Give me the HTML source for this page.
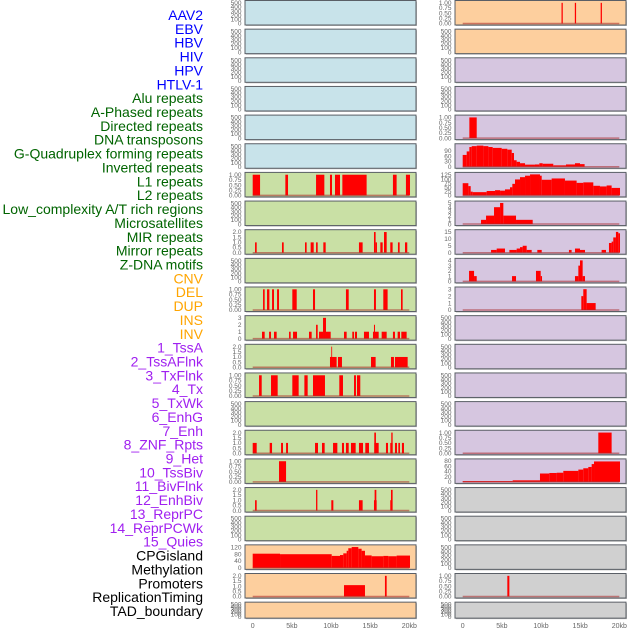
<!DOCTYPE html>
<html><head><meta charset="utf-8"><style>
html,body{margin:0;padding:0;background:#fff;width:630px;height:630px;overflow:hidden}
svg{display:block;font-family:"Liberation Sans",sans-serif}
</style></head><body>
<svg id="chart" width="630" height="630" viewBox="0 0 630 630" xmlns="http://www.w3.org/2000/svg"></svg>
<script>
// ---- data (kb start, kb end, value) ----
const trackLabels=["AAV2","EBV","HBV","HIV","HPV","HTLV-1","Alu repeats","A-Phased repeats","Directed repeats","DNA transposons","G-Quadruplex forming repeats","Inverted repeats","L1 repeats","L2 repeats","Low_complexity A/T rich regions","Microsatellites","MIR repeats","Mirror repeats","Z-DNA motifs","CNV","DEL","DUP","INS","INV","1_TssA","2_TssAFlnk","3_TxFlnk","4_Tx","5_TxWk","6_EnhG","7_Enh","8_ZNF_Rpts","9_Het","10_TssBiv","11_BivFlnk","12_EnhBiv","13_ReprPC","14_ReprPCWk","15_Quies","CPGisland","Methylation","Promoters","ReplicationTiming","TAD_boundary"];
const labelGroups=["v","v","v","v","v","v","r","r","r","r","r","r","r","r","r","r","r","r","r","c","c","c","c","c","s","s","s","s","s","s","s","s","s","s","s","s","s","s","s","k","k","k","k","k"];
const xTickValues=[0,5,10,15,20];
const xTickLabels=["0","5kb","10kb","15kb","20kb"];
const ticksEmpty=[0,100,200,300,400,500];
const ticksUnit=[0,0.25,0.5,0.75,1];
const ticksTwo=[0,0.5,1,1.5,2];
const R1=[[12.62,12.78,1],[14.32,14.48,1],[17.62,17.78,1]];
const R5=[[0.85,1.79,1]];
const R6edges=[0,0.51,0.85,1.15,1.79,2.64,3.28,3.83,4.98,5.70,6.26,6.55,6.89,7.32,7.96,9.23,9.79,10.21,11.57,13.19,14.34,14.98,15.57];
const R6values=[67,87,112,117,120,117,112,107,102,97,78,37,28,20,12,13,20,17,8,13,20,15];
const R7edges=[0,0.72,1.02,1.28,3.06,4.13,4.77,5.40,6.04,6.34,6.68,7.32,7.96,8.60,9.87,10.09,11.36,13.06,14.55,15.40,16.68,17.53,18.38,19.02,20.09];
const R7values=[75,57,23,20,27,32,29,37,50,71,98,112,121,129,121,96,104,91,77,80,59,55,61,46];
const R8edges=[2.34,2.98,4.00,4.77,5.19,6.81,8.94];
const R8values=[1,2,4,5,2,1];
const L7=[[0,0.94,1],[4.17,4.51,1],[8.09,9.15,1],[9.87,10.13,1],[10.51,11.15,1],[11.45,14.55,1],[17.91,18.38,1],[19.57,20.09,1]];
const L9=[[0.30,0.51,1],[3.74,3.96,1],[6.68,6.89,1],[7.40,7.79,1],[8.09,8.30,1],[9.02,9.32,1],[13.57,14.04,1],[15.49,15.70,2],[15.70,15.87,1],[16.30,16.60,1],[16.77,17.11,2],[17.57,17.87,1],[18.55,18.77,1],[19.45,19.74,1]];
const R9=[[3.62,4.34,2],[4.34,5.40,3],[5.96,6.89,2],[6.89,7.32,3],[7.32,7.66,4],[7.66,8.17,5],[8.17,8.81,2],[9.53,10.09,2],[13.57,13.91,2],[14.34,14.98,3],[14.98,15.62,2],[17.74,18.30,2],[18.68,19.02,7],[19.02,19.23,8],[19.23,19.57,11],[19.57,19.87,15],[19.87,20.09,14]];
const R10=[[0.81,1.45,2],[1.45,1.79,1],[6.30,6.81,1],[9.36,9.96,2],[9.96,10.13,1],[14.34,14.77,1],[14.77,14.98,3],[14.98,15.32,4],[15.32,15.62,1]];
const L11=[[1.32,1.53,1],[1.83,2.13,1],[2.47,2.72,1],[3.11,3.36,1],[5.06,5.62,1],[7.70,7.96,1],[11.91,12.26,1],[15.49,15.74,1],[16.68,17.23,1],[18.94,19.15,1]];
const R11=[[15.15,15.40,2],[15.40,15.83,3],[15.83,16.98,1]];
const L12=[[1.19,1.53,1],[2.09,2.34,1],[2.72,3.06,1],[4.64,4.85,1],[5.15,5.66,1],[7.19,7.53,1],[8.09,8.30,2],[8.47,8.98,1],[8.98,9.36,3],[9.36,9.96,1],[11.66,12.00,1],[12.72,12.94,1],[13.06,13.32,1],[14.21,14.85,1],[15.36,16.09,1],[15.49,15.62,2],[16.47,17.11,1],[17.91,18.17,1],[18.51,18.81,1],[18.98,19.66,1]];
const L13=[[9.87,10.72,1],[10.04,10.13,2],[10.89,11.40,1],[15.11,15.70,1],[17.66,18.04,1],[18.17,19.79,1]];
const L14=[[0.81,1.15,1],[2.34,3.19,1],[5.06,5.87,1],[6.60,7.02,1],[7.70,9.23,1],[11.06,11.53,1],[12.94,13.19,1],[13.32,13.74,1]];
const L16=[[0,0.51,1],[2.17,2.47,1],[3.62,3.87,1],[4.26,4.51,1],[7.96,8.34,1],[8.85,9.19,1],[10.26,10.81,1],[11.40,11.66,1],[11.91,12.26,1],[12.55,13.15,1],[13.57,14.09,1],[14.38,14.85,1],[15.53,16.09,1],[15.53,15.74,2],[17.02,17.28,1],[17.57,17.87,1],[17.70,17.87,2],[18.17,18.43,1],[18.60,18.81,1],[19.06,19.32,1]];
const R16=[[17.32,19.02,1]];
const L17=[[3.36,4.26,1]];
const R17edges=[0,6.38,9.87,11.06,12.0,12.85,14.77,15.40,16.04,16.47,16.77,20.09];
const R17values=[3,6,32,34,35,42,47,52,57,68,78];
const L18=[[0.30,0.51,1],[8.09,8.26,2],[10.04,10.30,1],[13.57,14.04,1],[15.49,15.83,1],[15.57,15.79,2],[17.57,17.79,1],[17.66,17.87,2]];
const L20edges=[0,3.49,10.09,11.15,11.57,12.0,12.21,12.64,13.49,13.91,14.34,15.19,16.68,17.32,18.38,20.09];
const L20values=[83,80,70,75,85,100,115,122,112,100,73,68,70,68,72];
const L21=[[11.66,14.34,1.1],[16.89,17.11,2]];
const R21=[[5.70,5.96,1]];

function steps(edges,vals){const o=[];for(let i=0;i<vals.length;i++)o.push([edges[i],edges[i+1],vals[i]]);return o;}

const BLUE="#c8e3ea",GREEN="#c9e0a5",PEACH="#fdcf9e",PURP="#d6c6e0",GRAY="#d0d0d0";
const panels=[];
function P(row,col,bg,ticks,ymax,data){panels.push({row,col,bg,ticks,ymax,data});}
for(let r=0;r<22;r++){
  const lb=r<6?BLUE:(r<19?GREEN:PEACH);
  const rb=r<2?PEACH:(r<17?PURP:GRAY);
  const L={6:[ticksUnit,1.04,L7],8:[ticksTwo,2.08,L9],10:[ticksUnit,1.04,L11],11:[[0,1,2,3],3.1,L12],12:[ticksTwo,2.08,L13],13:[ticksUnit,1.04,L14],15:[ticksTwo,2.08,L16],16:[ticksUnit,1.04,L17],17:[ticksTwo,2.08,L18],19:[[0,40,80,120],126,steps(L20edges,L20values)],20:[ticksTwo,2.08,L21]};
  const R={0:[ticksUnit,1.04,R1],4:[ticksUnit,1.04,R5],5:[[0,30,60,90],122,steps(R6edges,R6values)],6:[[0,25,50,75,100,125],132,steps(R7edges,R7values)],7:[[0,1,2,3,4,5],5.1,steps(R8edges,R8values)],8:[[0,5,10,15],15.5,R9],9:[[0,1,2,3,4],4.1,R10],10:[[0,1,2,3],3.1,R11],15:[ticksUnit,1.04,R16],16:[[0,20,40,60,80],82,steps(R17edges,R17values)],20:[ticksUnit,1.04,R21]};
  const l=L[r]||[ticksEmpty,520,null], rr=R[r]||[ticksEmpty,520,null];
  P(r,0,lb,l[0],l[1],l[2]); P(r,1,rb,rr[0],rr[1],rr[2]);
}

const NS="http://www.w3.org/2000/svg";
const svg=document.getElementById("chart");
function el(tag,attrs,parent){const e=document.createElementNS(NS,tag);for(const k in attrs)e.setAttribute(k,attrs[k]);(parent||svg).appendChild(e);return e;}
const colLeft=[245,455], panelW=171;
function xScale(col,kb){return colLeft[col]+7.7+kb/20*156.6;}
function rowTop(r){return 0.5+r*28.65;}
function rowH(r){return r===21?16:24.5;}
const fmt=(t,ticks)=>ticks===ticksUnit?t.toFixed(2):(ticks===ticksTwo?t.toFixed(1):String(t));

panels.forEach(p=>{
  const g=el("g",{});
  
  
  const y0=rowTop(p.row),h=rowH(p.row),x0=colLeft[p.col];
  el("rect",{x:x0+1,y:y0+1,width:panelW,height:h,fill:"#bbb"},g);
  el("rect",{x:x0,y:y0,width:panelW,height:h,fill:p.bg,stroke:"#5a5f66","stroke-width":1},g);
  const ys=v=>y0+h-1.5-v/p.ymax*(h-3);
  p.ticks.forEach(t=>{
    const tx=el("text",{x:x0-3.5,y:ys(t)+2.2,"text-anchor":"end","font-size":"6.5px",fill:"#666"},g);
    
    
    tx.textContent=fmt(t,p.ticks);
  });
  if(p.data){
    p.data.forEach(d=>{
      const xa=xScale(p.col,d[0]),xb=xScale(p.col,d[1]);
      const b=el("rect",{x:xa,y:ys(d[2]),width:Math.max(0.8,xb-xa),height:ys(0)-ys(d[2]),fill:"#ff0000"},g);
      
      
    });
    el("line",{x1:xScale(p.col,0),x2:xScale(p.col,20),y1:ys(0),y2:ys(0),stroke:"rgba(170,40,40,0.55)","stroke-width":1.5},g);
  }
});
[0,1].forEach(c=>{
  xTickValues.forEach((v,i)=>{
    const t=el("text",{x:xScale(c,v),y:628,"text-anchor":"middle","font-size":"7px",fill:"#666"});
    
    
    t.textContent=xTickLabels[i];
  });
});
const gc={v:"#0000ff",r:"#006400",c:"#ffa500",s:"#a020f0",k:"#000000"};
trackLabels.forEach((s,i)=>{
  const t=el("text",{x:203,y:15+i*13.86+5,"text-anchor":"end","font-size":"14px",fill:gc[labelGroups[i]]});
  
  
  t.textContent=s;
});
</script>
</body></html>
